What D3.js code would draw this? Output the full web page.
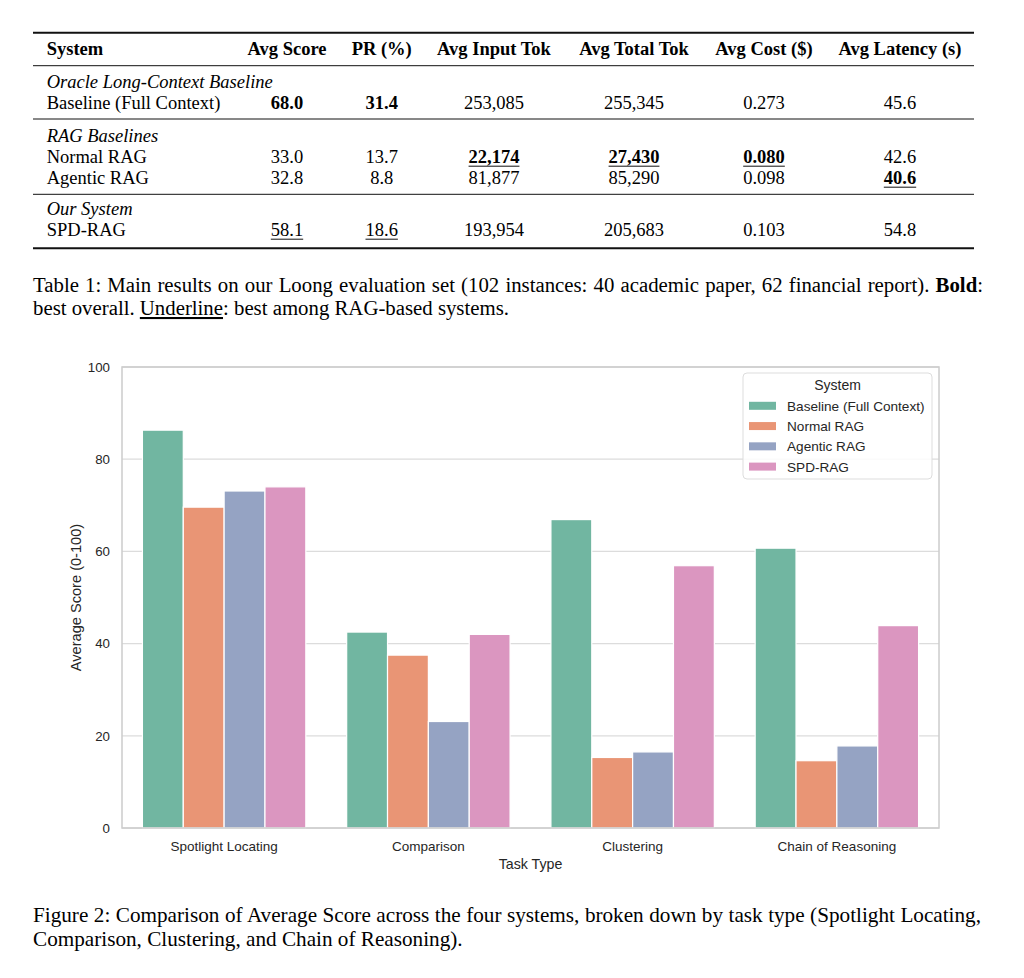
<!DOCTYPE html>
<html><head><meta charset="utf-8">
<script src="https://cdn.jsdelivr.net/npm/d3@7"></script>
<style>
html,body{margin:0;padding:0;background:#fff;}
svg{display:block;}
</style></head><body>
<svg id="page" width="1024" height="978"></svg>
<script>
// ---------------- data ----------------
const tableColumns = ["System","Avg Score","PR (%)","Avg Input Tok","Avg Total Tok","Avg Cost ($)","Avg Latency (s)"];
const tableGroups = ["Oracle Long-Context Baseline","RAG Baselines","Our System"];
const tableSystems = ["Baseline (Full Context)","Normal RAG","Agentic RAG","SPD-RAG"];
const systemGroup = [0,1,1,2];
const colAvgScore = ["68.0","33.0","32.8","58.1"];
const colPR = ["31.4","13.7","8.8","18.6"];
const colInputTok = ["253,085","22,174","81,877","193,954"];
const colTotalTok = ["255,345","27,430","85,290","205,683"];
const colCost = ["0.273","0.080","0.098","0.103"];
const colLatency = ["45.6","42.6","40.6","54.8"];
// b = bold (best overall), u = underline (best among RAG-based)
const emphAvgScore = ["b","","","u"];
const emphPR = ["b","","","u"];
const emphInputTok = ["","bu","",""];
const emphTotalTok = ["","bu","",""];
const emphCost = ["","bu","",""];
const emphLatency = ["","","bu",""];

const taskTypes = ["Spotlight Locating","Comparison","Clustering","Chain of Reasoning"];
const systems = ["Baseline (Full Context)","Normal RAG","Agentic RAG","SPD-RAG"];
const baselineScores = [86.3, 42.5, 66.9, 60.7];
const normalRagScores = [69.6, 37.5, 15.3, 14.6];
const agenticRagScores = [73.1, 23.1, 16.5, 17.8];
const spdRagScores = [74.0, 42.0, 56.9, 43.9];
const yTicks = [0,20,40,60,80,100];
const systemColors = ["#71b6a1","#e99575","#95a3c3","#db96c0"];

const tableCaption1 = [{t:"Table 1: Main results on our Loong evaluation set (102 instances: 40 academic paper, 62 financial report). "},{t:"Bold",b:true},{t:":"}];
const tableCaption2 = [{t:"best overall. "},{t:"Underline",u:true},{t:": best among RAG-based systems."}];
const figCaption1 = [{t:"Figure 2: Comparison of Average Score across the four systems, broken down by task type (Spotlight Locating,"}];
const figCaption2 = [{t:"Comparison, Clustering, and Chain of Reasoning)."}];

// ---------------- layout ----------------
const svg = d3.select("#page");
const serif = "'Liberation Serif','Times New Roman',Times,serif";
const sans = "'Liberation Sans',Arial,Helvetica,sans-serif";
const tfs = 18.5;

// ---- table ----
const T = svg.append("g").attr("font-family", serif).attr("font-size", tfs).attr("fill", "#000");
const tLeft = 33, tRight = 974, textLeft = 46.7;
const colX = [textLeft, 287, 381.7, 494, 634, 764, 900];
const rules = [{y:32.7,w:2},{y:65.7,w:1},{y:119,w:1},{y:194.3,w:1},{y:248.3,w:2}];
T.selectAll("line.rule").data(rules).enter().append("line")
  .attr("x1", tLeft).attr("x2", tRight).attr("y1", d=>d.y).attr("y2", d=>d.y)
  .attr("stroke", "#111").attr("stroke-width", d=>d.w);

const headerY = 55;
T.selectAll("text.hdr").data(tableColumns).enter().append("text")
  .attr("x", (d,i)=>colX[i]).attr("y", headerY)
  .attr("text-anchor", (d,i)=> i===0 ? "start" : "middle")
  .attr("font-weight", "bold").text(d=>d);

const groupY = [88, 142, 215];
const rowY = [109, 163, 184, 236];
T.selectAll("text.grp").data(tableGroups).enter().append("text")
  .attr("x", textLeft).attr("y", (d,i)=>groupY[i]).attr("font-style","italic").text(d=>d);
T.selectAll("text.sys").data(tableSystems).enter().append("text")
  .attr("x", textLeft).attr("y", (d,i)=>rowY[i]).text(d=>d);

const valueCols = [colAvgScore, colPR, colInputTok, colTotalTok, colCost, colLatency];
const emphCols = [emphAvgScore, emphPR, emphInputTok, emphTotalTok, emphCost, emphLatency];
valueCols.forEach((col, ci) => {
  col.forEach((v, ri) => {
    const e = emphCols[ci][ri];
    const t = T.append("text").attr("x", colX[ci+1]).attr("y", rowY[ri])
      .attr("text-anchor","middle").attr("font-weight", e.includes("b") ? "bold" : "normal").text(v);
    if (e.includes("u")) {
      const bb = t.node().getBBox();
      T.append("line").attr("x1", bb.x).attr("x2", bb.x + bb.width)
        .attr("y1", rowY[ri] + 3.2).attr("y2", rowY[ri] + 3.2)
        .attr("stroke", "#111").attr("stroke-width", 1);
    }
  });
});

// ---- captions ----
function caption(segs, x, y, fs, justifyTo) {
  const t = svg.append("text").attr("x", x).attr("y", y)
    .attr("font-family", serif).attr("font-size", fs).attr("fill", "#000");
  segs.forEach(s => {
    const ts = t.append("tspan").text(s.t);
    if (s.b) ts.attr("font-weight","bold");
    if (s.u) ts.attr("text-decoration","underline");
  });
  if (justifyTo) {
    const w = t.node().getComputedTextLength();
    const spaces = segs.map(s=>s.t).join("").split(" ").length - 1;
    if (spaces > 0) t.attr("word-spacing", (justifyTo - x - w) / spaces);
  }
  return t;
}
caption(tableCaption1, 33, 291.5, 20.8, 983);
caption(tableCaption2, 33, 315, 20.8);
caption(figCaption1, 33, 922, 21.2, 981);
caption(figCaption2, 33, 946, 21.2);

// ---- chart ----
const plot = {left:122, right:939, top:367, bottom:828};
const ink = "#262626";
const C = svg.append("g").attr("font-family", sans);

const x = d3.scaleBand().domain(taskTypes).range([plot.left, plot.right]).paddingInner(0).paddingOuter(0);
const groupW = x.bandwidth() * 0.8;
const xs = d3.scaleBand().domain(systems).range([0, groupW]);
const y = d3.scaleLinear().domain([0,100]).range([plot.bottom, plot.top]);

// grid
C.append("g").selectAll("line").data(yTicks).enter().append("line")
  .attr("x1", plot.left).attr("x2", plot.right)
  .attr("y1", d=>y(d)).attr("y2", d=>y(d))
  .attr("stroke", "#dcdcdc").attr("stroke-width", 1.3);

// bars
const seriesValues = [baselineScores, normalRagScores, agenticRagScores, spdRagScores];
const barData = [];
taskTypes.forEach((task, ti) => systems.forEach((s, si) => barData.push({task, sys:s, si, v: seriesValues[si][ti]})));
C.append("g").selectAll("rect").data(barData).enter().append("rect")
  .attr("x", d => x(d.task) + (x.bandwidth() - groupW)/2 + xs(d.sys))
  .attr("width", xs.bandwidth())
  .attr("y", d => y(d.v))
  .attr("height", d => y(0) - y(d.v))
  .attr("fill", d => systemColors[d.si])
  .attr("stroke", "#fff").attr("stroke-width", 1.2);

// spines
C.append("rect").attr("x", plot.left).attr("y", plot.top)
  .attr("width", plot.right-plot.left).attr("height", plot.bottom-plot.top)
  .attr("fill","none").attr("stroke","#cccccc").attr("stroke-width",1.5);

// axes
const yAxis = C.append("g").attr("transform", `translate(${plot.left},0)`)
  .call(d3.axisLeft(y).tickValues(yTicks).tickSize(0).tickPadding(12));
yAxis.select(".domain").remove();
yAxis.selectAll("text").attr("font-family", sans).attr("font-size", 13.3).attr("fill", ink);

const xAxis = C.append("g").attr("transform", `translate(0,${plot.bottom})`)
  .call(d3.axisBottom(x).tickSize(0));
xAxis.select(".domain").remove();
xAxis.selectAll("text").attr("font-family", sans).attr("font-size", 13.5).attr("fill", ink)
  .attr("y", 23).attr("dy", 0);

C.append("text").attr("x", (plot.left+plot.right)/2).attr("y", 869)
  .attr("text-anchor","middle").attr("font-size", 14.2).attr("fill", ink).text("Task Type");
C.append("text").attr("transform", `translate(81,${(plot.top+plot.bottom)/2}) rotate(-90)`)
  .attr("text-anchor","middle").attr("font-size", 14.6).attr("fill", ink).text("Average Score (0-100)");

// legend
const L = C.append("g");
L.append("rect").attr("x", 743).attr("y", 373).attr("width", 189).attr("height", 106)
  .attr("rx", 4).attr("fill", "#fff").attr("fill-opacity", 0.85)
  .attr("stroke", "#dddddd").attr("stroke-width", 1);
L.append("text").attr("x", 837.5).attr("y", 390).attr("text-anchor","middle")
  .attr("font-size", 14).attr("fill", ink).text("System");
const legY = d3.scalePoint().domain(systems).range([405.8, 466.6]);
const le = L.selectAll("g.item").data(systems).enter().append("g");
le.append("rect").attr("x", 749).attr("width", 27).attr("y", d => legY(d) - 4).attr("height", 8)
  .attr("fill", (d,i) => systemColors[i]);
le.append("text").attr("x", 787).attr("y", d => legY(d) + 5).attr("font-size", 13.6)
  .attr("fill", ink).text(d => d);
</script>
</body></html>
